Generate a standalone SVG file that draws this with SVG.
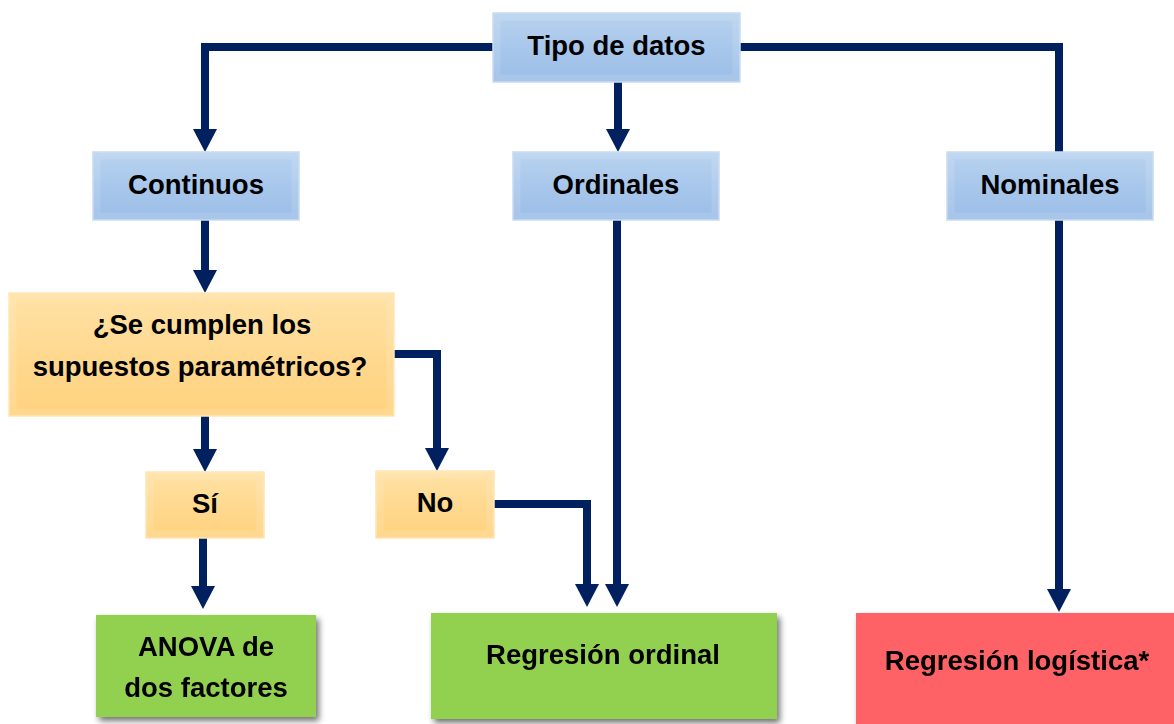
<svg xmlns="http://www.w3.org/2000/svg" width="1174" height="724" viewBox="0 0 1174 724">
<defs>
<linearGradient id="gBlue" x1="0" y1="0" x2="0" y2="1">
<stop offset="0" stop-color="#B9D3EF"/>
<stop offset="0.5" stop-color="#A8C7EB"/>
<stop offset="1" stop-color="#9BBDE7"/>
</linearGradient>
<linearGradient id="gOrange" x1="0" y1="0" x2="0" y2="1">
<stop offset="0" stop-color="#FFE2A6"/>
<stop offset="0.5" stop-color="#FFD990"/>
<stop offset="1" stop-color="#FFD27E"/>
</linearGradient>
<filter id="shadow" x="-10%" y="-10%" width="125%" height="130%">
<feGaussianBlur in="SourceAlpha" stdDeviation="3"/>
<feOffset dx="3" dy="4" result="b"/>
<feComponentTransfer><feFuncA type="linear" slope="0.55"/></feComponentTransfer>
<feMerge><feMergeNode/><feMergeNode in="SourceGraphic"/></feMerge>
</filter>
</defs>
<style>
.blue{fill:url(#gBlue);stroke:#C8DCF2;stroke-width:1.5}
.orange{fill:url(#gOrange);stroke:#FFE6B4;stroke-width:1.5}
.bevel{fill:none;stroke:#FFFFFF;stroke-opacity:0.12;stroke-width:7}
.green{fill:#92D050}
.red{fill:#FF6266}
.t{font-family:"Liberation Sans",Arial,sans-serif;font-weight:bold;font-size:27.5px;fill:#000;text-anchor:middle}
.c{fill:none;stroke:#002060;stroke-width:8;stroke-linejoin:miter}
</style>
<g id="connectors">
<path class="c" d="M493,47 H205 V130"/>
<path class="c" d="M740,47 H1059 V590"/>
<path class="c" d="M618,82 V130"/>
<path class="c" d="M205,220 V271"/>
<path class="c" d="M205,416 V450"/>
<path class="c" d="M394,354 H437 V449"/>
<path class="c" d="M203,538 V587"/>
<path class="c" d="M494,504 H587 V585"/>
<path class="c" d="M617,220 V585"/>
<g fill="#002060">
<path d="M193,129 L217,129 L205,152 Z"/>
<path d="M606,129 L630,129 L618,152 Z"/>
<path d="M1047,589 L1071,589 L1059,612 Z"/>
<path d="M193,270 L217,270 L205,293 Z"/>
<path d="M193,449 L217,449 L205,472 Z"/>
<path d="M425,448 L449,448 L437,471 Z"/>
<path d="M191,586 L215,586 L203,609 Z"/>
<path d="M575,584 L599,584 L587,607 Z"/>
<path d="M605,584 L629,584 L617,607 Z"/>
</g>
</g>
<g id="tipo">
<rect class="blue" x="493" y="13" width="247" height="69"/>
<rect class="bevel" x="497" y="17" width="239" height="61"/>
<text class="t" x="616.5" y="55">Tipo de datos</text>
</g>
<g id="continuos">
<rect class="blue" x="93" y="152" width="206" height="68"/>
<rect class="bevel" x="97" y="156" width="198" height="60"/>
<text class="t" x="196" y="194">Continuos</text>
</g>
<g id="ordinales">
<rect class="blue" x="513" y="152" width="206" height="68"/>
<rect class="bevel" x="517" y="156" width="198" height="60"/>
<text class="t" x="616" y="194">Ordinales</text>
</g>
<g id="nominales">
<rect class="blue" x="947" y="152" width="206" height="68"/>
<rect class="bevel" x="951" y="156" width="198" height="60"/>
<text class="t" x="1050" y="194">Nominales</text>
</g>
<g id="pregunta">
<rect class="orange" x="9" y="293" width="385" height="123"/>
<rect class="bevel" x="13" y="297" width="377" height="115"/>
<text class="t" x="202" y="334">¿Se cumplen los</text>
<text class="t" x="200" y="376">supuestos paramétricos?</text>
</g>
<g id="si">
<rect class="orange" x="146" y="472" width="118" height="66"/>
<rect class="bevel" x="150" y="476" width="110" height="58"/>
<text class="t" x="205" y="513">Sí</text>
</g>
<g id="no">
<rect class="orange" x="376" y="471" width="118" height="67"/>
<rect class="bevel" x="380" y="475" width="110" height="59"/>
<text class="t" x="435" y="512">No</text>
</g>
<g id="anova" filter="url(#shadow)">
<rect class="green" x="96" y="615" width="220" height="102"/>
<text class="t" x="206" y="656">ANOVA de</text>
<text class="t" x="206" y="697">dos factores</text>
</g>
<g id="regordinal" filter="url(#shadow)">
<rect class="green" x="431" y="613" width="346" height="106"/>
<text class="t" x="603" y="664">Regresión ordinal</text>
</g>
<g id="reglogistica" filter="url(#shadow)">
<rect class="red" x="856" y="613" width="324" height="120"/>
<text class="t" x="1017" y="670">Regresión logística*</text>
</g>
</svg>
